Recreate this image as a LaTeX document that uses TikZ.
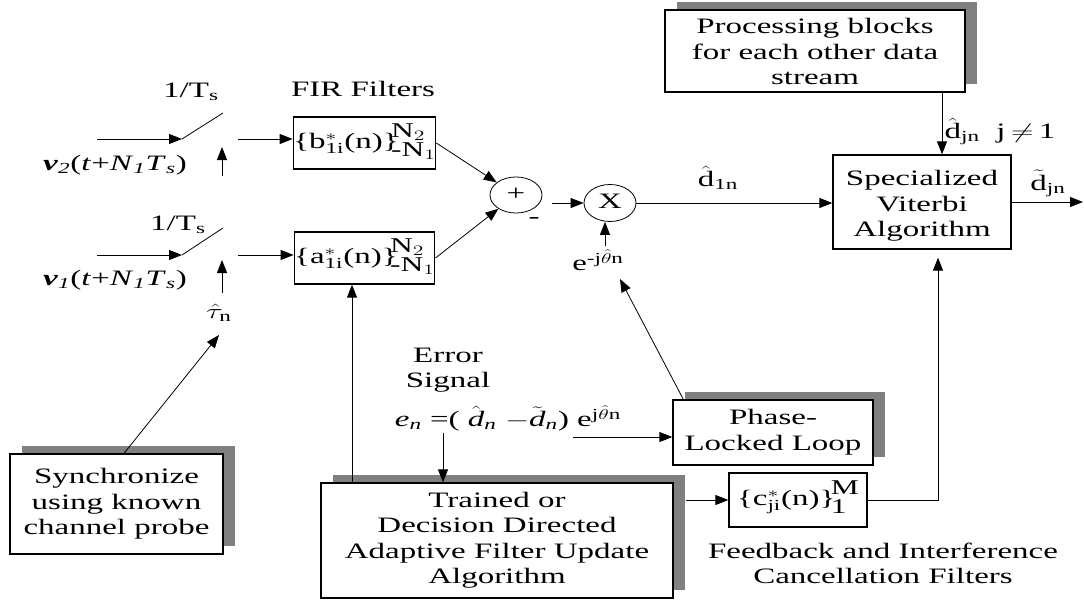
\documentclass[tikz,border=0pt]{standalone}
\usepackage{fontspec}
\setmainfont{Liberation Serif}
\usepackage{graphicx}
\usetikzlibrary{arrows.meta,shapes.geometric,shadows}
\definecolor{shadowgray}{RGB}{128,128,128}
\newcommand\sx[1]{\scalebox{1.5}[1]{\begin{tabular}{@{}c@{}}#1\end{tabular}}}
\newcommand\lims[2]{{\fontsize{21}{18}\selectfont\begin{tabular}[c]{@{}l@{}}#1\\#2\end{tabular}}}
\newcommand\lowr[2]{\raisebox{#1}[\height][\depth]{#2}}
\begin{document}
\begin{tikzpicture}[x=1pt,y=-1pt,
  arr/.style={-{Triangle[length=13pt,width=10pt]},line width=1pt},
  thinarr/.style={-{Triangle[length=13pt,width=10pt]},line width=0.8pt},
  ln/.style={line width=0.8pt},
  box/.style={draw,line width=1.3pt,fill=white,inner sep=0pt,font=\fontsize{22}{25.5}\selectfont},
  sbox/.style={box,drop shadow={shadow xshift=12pt,shadow yshift=8pt,fill=shadowgray,opacity=1}},
  lbl/.style={inner sep=0pt,font=\fontsize{22}{25.5}\selectfont},
  ring/.style={draw,ellipse,line width=0.8pt,inner sep=0pt,minimum width=52pt,minimum height=36pt,font=\fontsize{22}{25.5}\selectfont}]
\useasboundingbox (0,0) rectangle (1084,602);

% boxes
\node[sbox,minimum width=213pt,minimum height=100pt] (sync) at (116.5,504) {\sx{Synchronize\\using known\\channel probe}};
\node[sbox,minimum width=352pt,minimum height=115pt] (adapt) at (497,540.5) {\sx{Trained or\\Decision Directed\\Adaptive Filter Update\\Algorithm}};
\node[sbox,minimum width=200pt,minimum height=65pt] (pll) at (773,432.5) {\sx{Phase-\\Locked Loop}};
\node[box,minimum width=138pt,minimum height=54pt] (cbox) at (798,500) {\sx{\{c$^{*}_{\mathrm{ji}}$(n)\}\kern-3pt\lims{M}{1}}};
\node[sbox,minimum width=300pt,minimum height=82pt] (proc) at (815,51) {\lowr{-3pt}{\sx{Processing blocks\\for each other data\\stream}}};
\node[box,minimum width=178pt,minimum height=94pt] (vit) at (922,202) {\lowr{-4pt}{\sx{Specialized\\Viterbi\\Algorithm}}};
\node[box,minimum width=137pt,minimum height=52pt] (bbox) at (364.5,143) {\sx{\{b$^{*}_{\mathrm{1i}}$(n)\}\kern-5pt\lims{N$_2$}{-N$_1$}}};
\node[box,minimum width=137pt,minimum height=52pt] (abox) at (364.5,258) {\sx{\{a$^{*}_{\mathrm{1i}}$(n)\}\kern-5pt\lims{N$_2$}{-N$_1$}}};
\node[ring] (sum) at (516,195) {\sx{+}};
\node[ring,minimum height=37pt] (mult) at (610,203) {\sx{X}};

% labels
\node[lbl] (ts2) at (191,92) {\sx{1/T\textsubscript{s}}};
\node[lbl] (ts1) at (178,225) {\sx{1/T\textsubscript{s}}};
\node[lbl] (fir) at (363,91) {\sx{FIR Filters}};
\node[lbl] (v2) at (115,165) {\sx{\textbf{\textit{v}}\textsubscript{\textit{2}}(\textit{t}+\textit{N}\textsubscript{\textit{1}}\textit{T}\textsubscript{\textit{s}})}};
\node[lbl] (v1) at (115,280) {\sx{\textbf{\textit{v}}\textsubscript{\textit{1}}(\textit{t}+\textit{N}\textsubscript{\textit{1}}\textit{T}\textsubscript{\textit{s}})}};
\node[lbl] (tau) at (219,313) {\sx{$\hat{\tau}_{\mathrm{n}}$}};
\node[lbl] (err) at (448,370) {\sx{Error\\Signal}};
\node[lbl] (eq) at (508,420) {\sx{\textit{e}\textsubscript{\textit{n}} =( $\hat{\mathit{d}}_{\mathit{n}}$ $-\tilde{\mathit{d}}_{\mathit{n}}$) e\textsuperscript{j$\hat{\theta}$n}}};
\node[lbl] (ephase) at (598,264) {\sx{e\textsuperscript{-j$\hat{\theta}$n}}};
\node[lbl] (minus) at (534,218) {\sx{-}};
\node[lbl] (d1n) at (718,180) {\sx{$\hat{\mathrm{d}}_{\mathrm{1n}}$}};
\node[lbl] (djn) at (1000,132) {\sx{$\hat{\mathrm{d}}_{\mathrm{jn}}$\ \ j\,$\neq$\,1}};
\node[lbl] (dout) at (1048,184) {\sx{$\tilde{\mathrm{d}}_{\mathrm{jn}}$}};
\node[lbl] (fb) at (883,566) {\sx{Feedback and Interference\\Cancellation Filters}};

% coordinates
\coordinate (in2) at (97,139);
\coordinate (sw2) at (182,139);
\coordinate (bl2) at (223,113);
\coordinate (out2) at (238,139);
\coordinate (cb2) at (222,176);
\coordinate (ct2) at (222,147);
\coordinate (in1) at (97,255);
\coordinate (sw1) at (182,255);
\coordinate (bl1) at (223,228);
\coordinate (out1) at (238,255);
\coordinate (cb1) at (222,293);
\coordinate (ct1) at (222,260);
\coordinate (outend) at (1083,202);
\coordinate (eqdown) at (443,433);
\coordinate (eqright) at (573,437);
\coordinate (eup) at (605,246);

% switches
\draw[arr] (in2) -- (sw2);
\draw[ln] (sw2) -- (bl2);
\draw[arr] (out2) -- (out2 -| bbox.west);
\draw[arr] (cb2) -- (ct2);
\draw[arr] (in1) -- (sw1);
\draw[ln] (sw1) -- (bl1);
\draw[arr] (out1) -- (out1 -| abox.west);
\draw[arr] (cb1) -- (ct1);
\draw[thinarr] ([xshift=7.5pt]sync.north) -- ([yshift=-22pt]tau.center);

% filters to sum and mult
\draw[thinarr] (bbox.east) -- (sum);
\draw[thinarr] (abox.east) -- (sum);
\draw[arr] ([xshift=10pt,yshift=-8pt]sum.east) -- (mult.west);
\draw[arr] (mult.east) -- (mult.east -| vit.west);
\draw[arr] (eup) -- (eup |- mult.south);
\draw[thinarr] ([xshift=11pt]pll.north west) -- ([xshift=22pt,yshift=-15pt]ephase.center);

% error signal paths
\draw[arr] (eqdown) -- (eqdown |- adapt.north);
\draw[arr] (eqright) -- (eqright -| pll.west);
\draw[arr] ([xshift=-145pt]adapt.north) -- ([xshift=-145pt]adapt.north |- abox.south);
\draw[arr] ([xshift=12pt]adapt.east |- cbox.west) -- (cbox.west);
\draw[arr,shorten >=8pt] (cbox.east) -| ([xshift=16pt]vit.south);

% viterbi
\draw[arr] ([xshift=20pt]vit.north |- proc.south) -- ([xshift=20pt]vit.north);
\draw[arr] (vit.east) -- (outend);
\end{tikzpicture}
\end{document}
